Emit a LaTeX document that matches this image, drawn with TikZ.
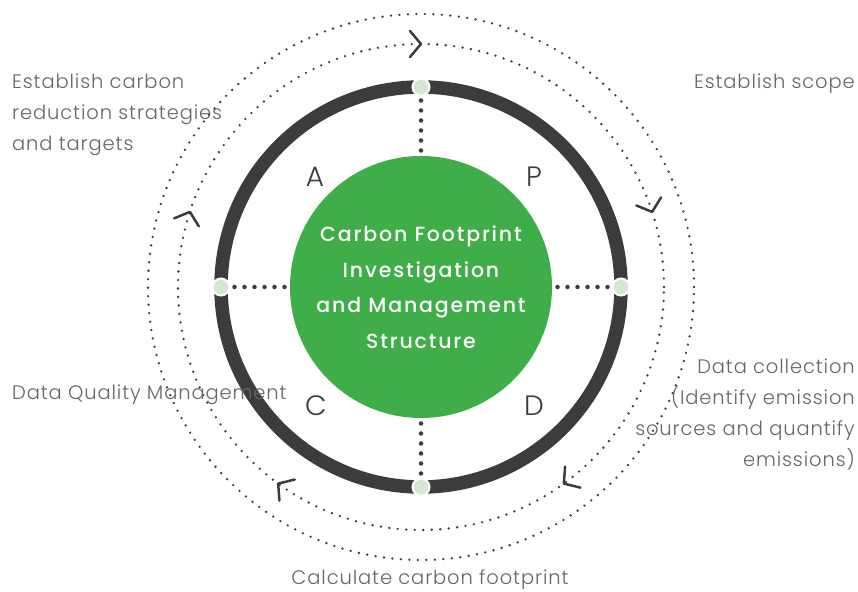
\documentclass[tikz,border=0pt]{standalone}
\usepackage{fontspec}
\setmainfont{Poppins}[UprightFont=*-Light,BoldFont=*-Medium,LetterSpace=4.5]
\newfontfamily\corefont{Poppins}[UprightFont=*-Medium,LetterSpace=9]
\newfontfamily\phasefont{Poppins}[UprightFont=*-Light]
\usetikzlibrary{calc}
\definecolor{ringgray}{HTML}{3C3C3C}
\definecolor{leafgreen}{HTML}{3FAE49}
\definecolor{palegreen}{HTML}{D3E8CE}
\definecolor{labelgray}{HTML}{666666}
\tikzset{
  ring/.style={line width=13.5pt,draw=ringgray},
  orbit/.style={draw=ringgray,line width=2.6pt,line cap=round,dash pattern=on 0pt off 8.5pt},
  spoke/.style={draw=ringgray,line width=4.5pt,line cap=round,dash pattern=on 0pt off 10pt,shorten <=4pt,shorten >=3pt},
  joint/.style={circle,fill=palegreen,draw=white,line width=2pt,minimum size=17pt,inner sep=0pt},
  chevron/.style={draw=ringgray,line width=2.5pt,line cap=round,line join=round},
  phase/.style={text=ringgray,font=\phasefont\fontsize{28}{28}\selectfont},
  steplabel/.style={text=labelgray,font=\fontsize{19.5}{31}\selectfont,inner sep=0pt}
}

\begin{document}
\begin{tikzpicture}[x=1pt,y=1pt]
  \useasboundingbox (0,0) rectangle (858,591);
  \coordinate (o) at (421,304);
  % dotted orbits with direction marks
  \draw[orbit] (o) circle (273);
  \draw[orbit] (o) circle (243);
  \foreach \a in {90,18,-54,-126,-198}
    \draw[chevron,shift={(o)},rotate=\a] (256,11) -- (243,0) -- (230,11);
  % ring and core
  \draw[ring] (o) circle (200);
  \node[circle,fill=leafgreen,minimum size=262pt,inner sep=0pt,text=white,align=center,
        font=\corefont\fontsize{20.5}{35.5}\selectfont] (core) at (o)
        {Carbon Footprint\\Investigation\\and Management\\Structure};
  \node[joint] (top) at ($(o)+(90:200)$) {};
  \node[joint] (right) at ($(o)+(0:200)$) {};
  \node[joint] (bottom) at ($(o)+(-90:200)$) {};
  \node[joint] (left) at ($(o)+(180:200)$) {};
  \draw[spoke] (top) -- (core);
  \draw[spoke] (right) -- (core);
  \draw[spoke] (bottom) -- (core);
  \draw[spoke] (left) -- (core);
  % PDCA letters
  \node[phase] (pa) at (315,414) {A};
  \node[phase] (pp) at (534,414) {P};
  \node[phase] (pc) at (316,185) {C};
  \node[phase] (pd) at (534,185) {D};
  % step labels
  \node[steplabel,anchor=north west,align=left] (reduce) at (12,517)
    {Establish carbon\\reduction strategies\\and targets};
  \node[steplabel,anchor=north east] (scope) at (855,517) {Establish scope};
  \node[steplabel,anchor=north east,align=right] (collect) at (855,232)
    {Data collection\\(Identify emission\\sources and quantify\\emissions)};
  \node[steplabel,anchor=north west] (quality) at (12,206) {Data Quality Management};
  \node[steplabel,anchor=south] (calc) at (430,1) {Calculate carbon footprint};
\end{tikzpicture}
\end{document}
